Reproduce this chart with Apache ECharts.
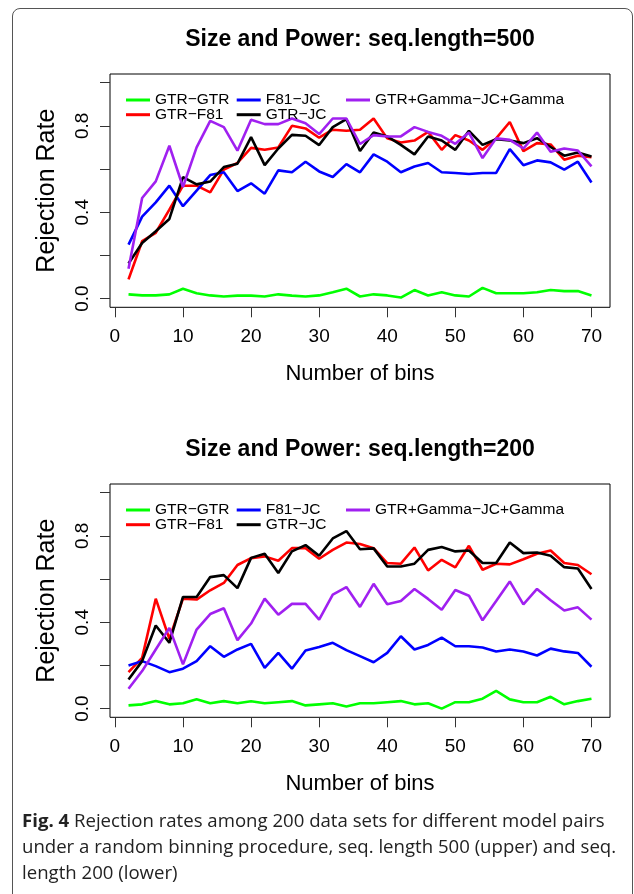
<!DOCTYPE html>
<html><head><meta charset="utf-8">
<script src="https://cdn.jsdelivr.net/npm/echarts@6/dist/echarts.min.js"></script>
<style>
html,body{margin:0;padding:0;background:#fff;overflow:hidden}
#wrap{position:relative;width:634px;height:894px;overflow:hidden}
#c{position:absolute;left:0;top:0;width:634px;height:894px}
#frame{position:absolute;left:12px;top:8px;width:619px;height:940px;border:1px solid #555;border-radius:8px;pointer-events:none}
#caption{position:absolute;left:22px;top:807px;font-family:"Open Sans","Noto Sans",sans-serif;font-size:18.6px;line-height:26px;color:#222;white-space:nowrap}
</style>
</head><body>
<div id="wrap">
  <div id="frame"></div>
  <div id="c"></div>
  <div id="caption"><b>Fig. 4</b> Rejection rates among 200 data sets for different model pairs<br>under a random binning procedure, seq. length 500 (upper) and seq.<br>length 200 (lower)</div>
</div>
<script>
// ---------- data ----------
const bins = [2,4,6,8,10,12,14,16,18,20,22,24,26,28,30,32,34,36,38,40,42,44,46,48,50,52,54,56,58,60,62,64,66,68,70];
const seriesNames = ['GTR−GTR','GTR−F81','F81−JC','GTR−JC','GTR+Gamma−JC+Gamma'];
const seriesColors = ['#00FF00','#FF0000','#0000FF','#000000','#A020F0'];
const xTicks = [0,10,20,30,40,50,60,70];
const yTicks = [0,0.2,0.4,0.6,0.8,1.0];
const yLabels = [0,0.4,0.8];
const panelTitles = ['Size and Power: seq.length=500','Size and Power: seq.length=200'];

// seq.length = 500 (upper)
const up_GTR_GTR = [0.02,0.015,0.015,0.02,0.046,0.025,0.015,0.01,0.014,0.014,0.01,0.02,0.014,0.01,0.015,0.03,0.046,0.01,0.02,0.015,0.005,0.04,0.015,0.03,0.015,0.01,0.05,0.025,0.025,0.025,0.03,0.04,0.035,0.035,0.015];
const up_GTR_F81 = [0.089,0.266,0.305,0.412,0.523,0.523,0.492,0.597,0.628,0.698,0.689,0.70,0.80,0.788,0.745,0.782,0.777,0.782,0.834,0.742,0.723,0.732,0.772,0.689,0.757,0.732,0.689,0.742,0.818,0.683,0.72,0.714,0.643,0.662,0.655];
const up_F81_JC = [0.25,0.38,0.446,0.523,0.428,0.50,0.572,0.585,0.498,0.534,0.486,0.594,0.585,0.634,0.589,0.563,0.623,0.585,0.668,0.634,0.585,0.612,0.628,0.585,0.582,0.577,0.582,0.582,0.692,0.618,0.64,0.631,0.597,0.634,0.538];
const up_GTR_JC = [0.163,0.258,0.312,0.369,0.563,0.529,0.542,0.609,0.625,0.748,0.618,0.695,0.758,0.754,0.711,0.794,0.831,0.684,0.769,0.751,0.712,0.668,0.751,0.732,0.689,0.777,0.712,0.738,0.732,0.72,0.743,0.702,0.662,0.677,0.658];
const up_Gamma = [0.138,0.466,0.543,0.708,0.517,0.70,0.823,0.794,0.685,0.828,0.808,0.808,0.834,0.812,0.762,0.834,0.834,0.716,0.757,0.751,0.751,0.794,0.772,0.754,0.717,0.769,0.651,0.742,0.735,0.695,0.769,0.68,0.695,0.686,0.612];

// seq.length = 200 (lower)
const lo_GTR_GTR = [0.015,0.02,0.035,0.02,0.025,0.043,0.025,0.035,0.025,0.034,0.025,0.03,0.035,0.015,0.02,0.025,0.01,0.025,0.025,0.03,0.035,0.02,0.025,0.0,0.03,0.03,0.046,0.082,0.043,0.03,0.03,0.055,0.02,0.035,0.046];
const lo_GTR_F81 = [0.169,0.235,0.509,0.323,0.509,0.505,0.548,0.582,0.665,0.697,0.705,0.685,0.743,0.743,0.694,0.735,0.769,0.762,0.743,0.674,0.671,0.746,0.64,0.689,0.654,0.754,0.643,0.671,0.668,0.692,0.717,0.732,0.674,0.665,0.622];
const lo_F81_JC = [0.2,0.22,0.197,0.169,0.185,0.22,0.289,0.24,0.274,0.30,0.189,0.258,0.185,0.269,0.285,0.305,0.271,0.243,0.215,0.258,0.335,0.274,0.295,0.329,0.289,0.289,0.283,0.265,0.274,0.265,0.246,0.278,0.265,0.258,0.194];
const lo_GTR_JC = [0.135,0.22,0.385,0.305,0.517,0.517,0.609,0.618,0.558,0.698,0.717,0.628,0.728,0.757,0.708,0.788,0.822,0.738,0.742,0.658,0.658,0.671,0.735,0.748,0.728,0.732,0.674,0.674,0.769,0.72,0.723,0.708,0.655,0.649,0.554];
const lo_Gamma = [0.092,0.174,0.274,0.374,0.205,0.366,0.438,0.465,0.317,0.394,0.509,0.435,0.485,0.485,0.412,0.528,0.563,0.471,0.578,0.483,0.498,0.554,0.508,0.458,0.549,0.523,0.409,0.498,0.589,0.483,0.554,0.502,0.454,0.469,0.412];

const panels = [
  [up_GTR_GTR, up_GTR_F81, up_F81_JC, up_GTR_JC, up_Gamma],
  [lo_GTR_GTR, lo_GTR_F81, lo_F81_JC, lo_GTR_JC, lo_Gamma]
];

// ---------- chart ----------
const FONT = '"Liberation Sans", Arial, Helvetica, sans-serif';
const panelTop = [74, 484];
const plotH = 233.3;

const grid = [], xAxis = [], yAxis = [], series = [], legend = [], title = [];
panels.forEach((arrs, p) => {
  const off = panelTop[p] - panelTop[0];
  grid.push({left:110, top:panelTop[p], width:500, height:plotH, show:true,
    borderColor:'#000', borderWidth:1, backgroundColor:'transparent'});
  xAxis.push({
    type:'value', gridIndex:p, min:-0.72, max:72.72,
    axisLine:{show:false, onZero:false},
    axisTick:{show:true, inside:false, length:10, customValues:xTicks, lineStyle:{color:'#333', width:1}},
    axisLabel:{show:true, customValues:xTicks, showMinLabel:true, margin:20, fontSize:19, color:'#000', fontFamily:FONT},
    splitLine:{show:false},
    name:'Number of bins', nameLocation:'middle', nameGap:56,
    nameTextStyle:{fontSize:22, color:'#000', fontFamily:FONT}
  });
  yAxis.push({
    type:'value', gridIndex:p, min:-0.04, max:1.04,
    axisLine:{show:false, onZero:false},
    axisTick:{show:true, inside:false, length:10, customValues:yTicks, lineStyle:{color:'#333', width:1}},
    axisLabel:{show:true, customValues:yLabels, rotate:90, margin:18, fontSize:19, color:'#000', fontFamily:FONT,
      formatter: v => Number(v).toFixed(1)},
    splitLine:{show:false},
    name:'Rejection Rate', nameLocation:'middle', nameGap:50, nameRotate:90,
    nameTextStyle:{fontSize:25, color:'#000', fontFamily:FONT}
  });
  arrs.forEach((vals, k) => {
    series.push({type:'line', name:seriesNames[k], xAxisIndex:p, yAxisIndex:p,
      data: bins.map((b, i) => [b, vals[i]]), symbol:'none', silent:true,
      lineStyle:{color:seriesColors[k], width:2.6}, itemStyle:{color:seriesColors[k]}, emphasis:{disabled:true}});
  });
  const legPos = [[126, 92], [126, 106.7], [236.7, 92], [236.7, 106.7], [346, 92]];
  seriesNames.forEach((nm, k) => {
    legend.push({data:[nm], left:legPos[k][0], top:legPos[k][1] + off, padding:0, selectedMode:false,
      icon:'rect', itemWidth:24, itemHeight:3, textStyle:{fontSize:15.5, color:'#000', fontFamily:FONT}});
  });
  title.push({text:panelTitles[p], left:360, top:28 + off, textAlign:'center', padding:0,
    textStyle:{fontSize:23, fontWeight:'bold', color:'#000', fontFamily:FONT}});
});

const chart = echarts.init(document.getElementById('c'));
chart.setOption({animation:false, backgroundColor:'transparent', title, grid, xAxis, yAxis, series, legend});
</script></body></html>
